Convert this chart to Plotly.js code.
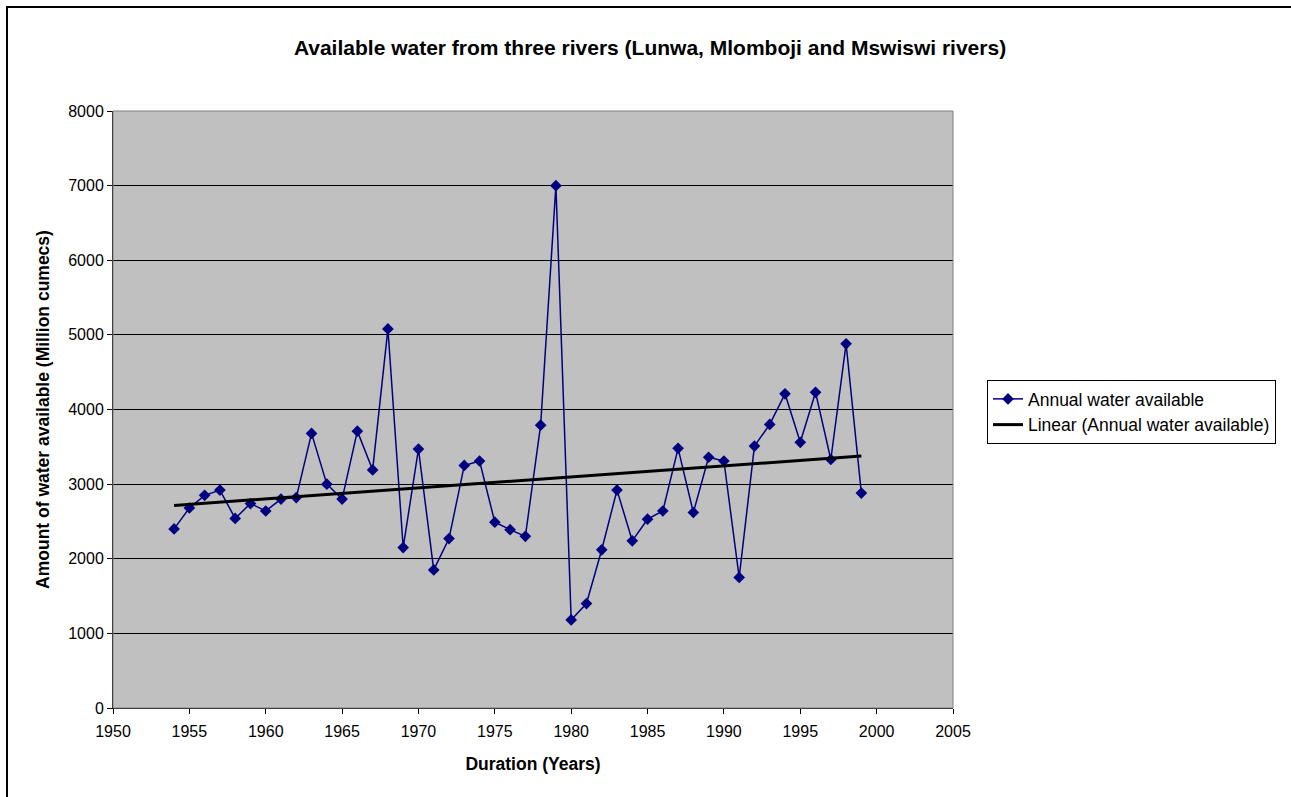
<!DOCTYPE html>
<html>
<head>
<meta charset="utf-8">
<script src="https://cdn.plot.ly/plotly-3.0.1.min.js"></script>
<style>
  html, body { margin: 0; padding: 0; background: #fff; }
  #wrap { position: relative; width: 1291px; height: 797px; overflow: hidden; }
  #frame { position: absolute; left: 6px; top: 6px; width: 1400px; height: 900px; border-left: 2px solid #000; border-top: 2px solid #000; pointer-events: none; z-index: 5; }
  #chart { position: absolute; left: 0; top: 0; width: 1291px; height: 797px; }
</style>
</head>
<body>
<div id="wrap">
  <div id="chart"></div>
  <div id="frame"></div>
</div>
<script>
const years = [1954,1955,1956,1957,1958,1959,1960,1961,1962,1963,1964,1965,1966,1967,1968,1969,1970,1971,1972,1973,1974,1975,1976,1977,1978,1979,1980,1981,1982,1983,1984,1985,1986,1987,1988,1989,1990,1991,1992,1993,1994,1995,1996,1997,1998,1999];
const water = [2400,2680,2850,2920,2540,2740,2640,2800,2820,3680,3000,2800,3710,3190,5080,2150,3470,1850,2270,3250,3310,2490,2390,2300,3790,7000,1180,1400,2120,2920,2240,2530,2640,3480,2620,3360,3310,1750,3510,3800,4210,3560,4230,3330,4880,2880];
const seriesName = "Annual water available";
const trendName = "Linear (Annual water available)";
const chartTitle = "Available water from three rivers (Lunwa, Mlomboji and Mswiswi rivers)";
const xTitle = "Duration (Years)";
const yTitle = "Amount of water available (Million cumecs)";

// least-squares linear trend computed from the data
const n = years.length;
const mx = years.reduce((a,b)=>a+b,0)/n;
const my = water.reduce((a,b)=>a+b,0)/n;
let sxy = 0, sxx = 0;
for (let i=0;i<n;i++){ sxy += (years[i]-mx)*(water[i]-my); sxx += (years[i]-mx)*(years[i]-mx); }
const slope = sxy/sxx, icpt = my - slope*mx;
const trendX = [years[0], years[n-1]];
const trendY = trendX.map(x => icpt + slope*x);

const fontFam = "Liberation Sans, Arial, sans-serif";

const data = [
  { x: years, y: water, type: 'scatter', mode: 'lines+markers', name: seriesName,
    line: { color: '#000080', width: 1.5 },
    marker: { symbol: 'diamond', size: 9, color: '#000080' } },
  { x: trendX, y: trendY, type: 'scatter', mode: 'lines', name: trendName,
    line: { color: '#000000', width: 3 } }
];

const layout = {
  width: 1291, height: 797, autosize: false,
  margin: { l: 113, r: 338, t: 111, b: 89, pad: 0 },
  paper_bgcolor: '#ffffff', plot_bgcolor: '#c0c0c0',
  font: { family: fontFam, size: 16, color: '#000' },
  title: { text: '<b>' + chartTitle + '</b>', font: { size: 21, family: fontFam, color: '#000' },
           x: 650/1291, xref: 'container', xanchor: 'center', y: 1 - 48/797, yref: 'container', yanchor: 'middle' },
  xaxis: { range: [1950, 2005], dtick: 5, tick0: 1950, showgrid: false, zeroline: false,
           showline: true, linecolor: '#000', linewidth: 1, ticks: 'outside', ticklen: 5, tickcolor: '#000',
           tickfont: { size: 16 }, ticklabelstandoff: 4,
           title: { text: '<b>' + xTitle + '</b>', font: { size: 17.5 }, standoff: 18 } },
  yaxis: { range: [0, 8000], dtick: 1000, showgrid: true, gridcolor: '#000', gridwidth: 1, zeroline: false,
           showline: true, linecolor: '#000', linewidth: 1, ticks: 'outside', ticklen: 5, tickcolor: '#000',
           tickfont: { size: 16 },
           title: { text: '<b>' + yTitle + '</b>', font: { size: 17.5 }, standoff: 14 } },
  shapes: [{ type: 'rect', xref: 'paper', yref: 'paper', x0: 0, x1: 1, y0: 0, y1: 1,
             line: { color: '#808080', width: 1 }, layer: 'above' }],
  showlegend: true,
  legend: { x: (987-113)/840, y: (708-380)/597, xanchor: 'left', yanchor: 'top',
            bgcolor: '#ffffff', bordercolor: '#000', borderwidth: 1,
            font: { size: 17.5, family: fontFam }, tracegroupgap: 0, itemwidth: 30 }
};

Plotly.newPlot('chart', data, layout, { displayModeBar: false, staticPlot: true });
</script>
</body>
</html>
